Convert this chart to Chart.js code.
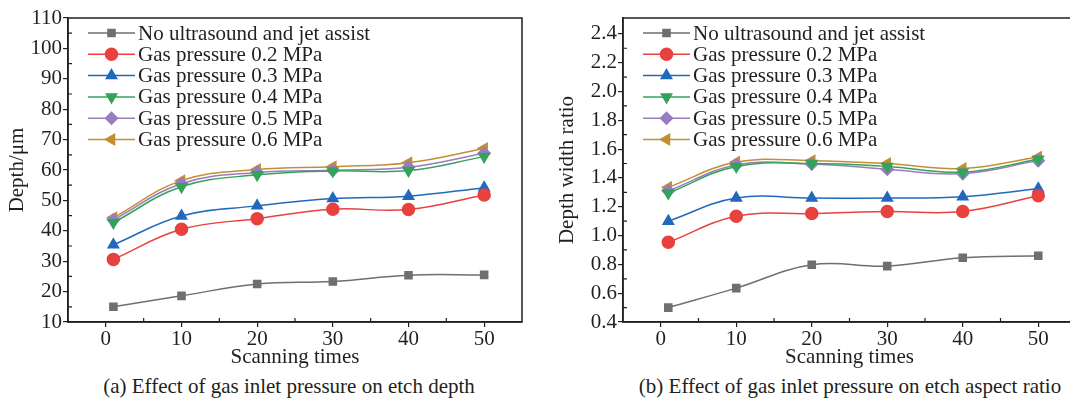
<!DOCTYPE html>
<html>
<head>
<meta charset="utf-8">
<script src="https://cdn.jsdelivr.net/npm/chart.js"></script>
<style>
  html, body { margin: 0; padding: 0; background: #fff; overflow: hidden; width: 1070px; height: 400px; }
  canvas { position: absolute; top: 0; }
  #depth-chart { left: 0; }
  #ratio-chart { left: 555px; }
  .caption { position: absolute; top: 373px; font: 21px "Liberation Serif", serif; line-height: 26px; color: #231f20; white-space: nowrap; transform: translateX(-50%); }
</style>
</head>
<body>
<canvas id="depth-chart" width="540" height="370"></canvas>
<canvas id="ratio-chart" width="540" height="370"></canvas>
<div class="caption" style="left:289px">(a) Effect of gas inlet pressure on etch depth</div>
<div class="caption" style="left:850px">(b) Effect of gas inlet pressure on etch aspect ratio</div>
<script>
const scanTimes = [1, 10, 20, 30, 40, 50];
const seriesNames = [
    'No ultrasound and jet assist',
    'Gas pressure 0.2 MPa',
    'Gas pressure 0.3 MPa',
    'Gas pressure 0.4 MPa',
    'Gas pressure 0.5 MPa',
    'Gas pressure 0.6 MPa',
];

// etch depth, um
const depthNoAssist = [15, 18.6, 22.5, 23.3, 25.4, 25.5];
const depth02 = [30.6, 40.5, 44, 47.1, 47, 51.8];
const depth03 = [35.4, 44.9, 48.2, 50.6, 51.4, 54.2];
const depth04 = [42.7, 54.5, 58.4, 59.7, 59.8, 64.4];
const depth05 = [43.6, 55.5, 59.2, 59.9, 60.9, 65.5];
const depth06 = [44.3, 56.5, 60.2, 61.1, 62.4, 67.1];

// depth / width ratio
const ratioNoAssist = [0.50, 0.635, 0.797, 0.788, 0.846, 0.86];
const ratio02 = [0.953, 1.134, 1.153, 1.167, 1.167, 1.276];
const ratio03 = [1.10, 1.26, 1.26, 1.26, 1.27, 1.325];
const ratio04 = [1.295, 1.48, 1.50, 1.48, 1.44, 1.53];
const ratio05 = [1.31, 1.49, 1.497, 1.46, 1.43, 1.52];
const ratio06 = [1.335, 1.51, 1.52, 1.50, 1.465, 1.545];

const depthTicks = [10, 20, 30, 40, 50, 60, 70, 80, 90, 100, 110];
const ratioTicks = [0.4, 0.6, 0.8, 1.0, 1.2, 1.4, 1.6, 1.8, 2.0, 2.2, 2.4];
const xTicks = [0, 10, 20, 30, 40, 50];

const seriesColors = ['#6e6f73', '#e8413f', '#2169bd', '#33a35b', '#9a7cc0', '#c38f32'];
const seriesMarkers = [
    { style: 'rect', rotation: 0 },
    { style: 'circle', rotation: 0 },
    { style: 'triangle', rotation: 0 },
    { style: 'triangle', rotation: 180 },
    { style: 'rectRot', rotation: 0 },
    { style: 'triangle', rotation: 270 },
];

const ink = '#231f20';
const serif = '"Liberation Serif", "Times New Roman", serif';
const fontSize = 21;

function makeDatasets(seriesList) {
    return seriesList.map((values, i) => ({
        label: seriesNames[i],
        data: values.map((v, j) => ({ x: scanTimes[j], y: v })),
        borderColor: seriesColors[i],
        backgroundColor: seriesColors[i],
        borderWidth: 1.5,
        pointStyle: seriesMarkers[i].style,
        rotation: seriesMarkers[i].rotation,
        pointRadius: seriesMarkers[i].style === 'rect' ? 5 : 6,
        tension: 0.4,
    }));
}

// box around the plot area
const framePlugin = {
    id: 'frame',
    afterDraw(chart) {
        const { ctx, chartArea } = chart;
        ctx.save();
        ctx.strokeStyle = ink;
        ctx.lineWidth = 1.5;
        ctx.strokeRect(chartArea.left, chartArea.top, chartArea.right - chartArea.left, chartArea.bottom - chartArea.top);
        ctx.restore();
    }
};

// small inward ticks between the labelled ones
const minorTickPlugin = {
    id: 'minorTicks',
    afterDraw(chart, args, opts) {
        const { ctx, chartArea, scales } = chart;
        ctx.save();
        ctx.strokeStyle = ink;
        ctx.lineWidth = 1.2;
        ctx.beginPath();
        for (const v of opts.x) {
            const px = scales.x.getPixelForValue(v);
            ctx.moveTo(px, chartArea.bottom);
            ctx.lineTo(px, chartArea.bottom - 4);
        }
        for (const v of opts.y) {
            const py = scales.y.getPixelForValue(v);
            ctx.moveTo(chartArea.left, py);
            ctx.lineTo(chartArea.left + 4, py);
        }
        ctx.stroke();
        ctx.restore();
    }
};

// legend with line + marker, drawn inside the plot
const lineLegendPlugin = {
    id: 'lineLegend',
    afterDraw(chart) {
        const { ctx, chartArea } = chart;
        const x0 = chartArea.left + 20;
        const y0 = chartArea.top + 15;
        const rowH = 21.3;
        ctx.save();
        ctx.font = fontSize + 'px ' + serif;
        ctx.textBaseline = 'middle';
        chart.data.datasets.forEach((ds, i) => {
            const y = y0 + i * rowH;
            ctx.strokeStyle = ds.borderColor;
            ctx.fillStyle = ds.backgroundColor;
            ctx.lineWidth = 1.5;
            ctx.beginPath();
            ctx.moveTo(x0, y);
            ctx.lineTo(x0 + 47, y);
            ctx.stroke();
            Chart.helpers.drawPoint(ctx, {
                pointStyle: ds.pointStyle,
                rotation: ds.rotation,
                radius: ds.pointRadius,
                borderWidth: 1
            }, x0 + 23.5, y);
            ctx.fillStyle = ink;
            ctx.fillText(ds.label, x0 + 50, y + 1);
        });
        ctx.restore();
    }
};

function buildOptions(yMin, yMax, yTicks, yTitle, yTitlePad, minorY, rightPad, fmt) {
    return {
        responsive: false,
        animation: false,
        layout: { padding: { top: 18, right: rightPad, left: 0, bottom: 0 } },
        plugins: {
            legend: { display: false },
            tooltip: { enabled: false },
            minorTicks: { x: [5, 15, 25, 35, 45], y: minorY },
        },
        scales: {
            x: {
                type: 'linear',
                min: -5,
                max: 55,
                afterBuildTicks: (scale) => { scale.ticks = xTicks.map(v => ({ value: v })); },
                afterFit: (scale) => { scale.height = 48; },
                grid: { drawOnChartArea: false, tickLength: 5, color: ink, lineWidth: 1.2 },
                border: { color: ink, width: 1.5 },
                ticks: { color: ink, font: { family: serif, size: fontSize }, padding: 0, maxRotation: 0 },
                title: { display: true, text: 'Scanning times', color: ink, font: { family: serif, size: fontSize }, padding: { top: 0, bottom: 0 } },
            },
            y: {
                type: 'linear',
                min: yMin,
                max: yMax,
                afterBuildTicks: (scale) => { scale.ticks = yTicks.map(v => ({ value: v })); },
                afterFit: (scale) => { scale.width = 68; },
                grid: { drawOnChartArea: false, tickLength: 5, color: ink, lineWidth: 1.2 },
                border: { color: ink, width: 1.5 },
                ticks: { color: ink, font: { family: serif, size: fontSize }, padding: 1, callback: fmt },
                title: { display: true, text: yTitle, color: ink, font: { family: serif, size: fontSize }, padding: { top: yTitlePad, bottom: 0 } },
            },
        },
    };
}

new Chart(document.getElementById('depth-chart'), {
    type: 'line',
    data: { datasets: makeDatasets([depthNoAssist, depth02, depth03, depth04, depth05, depth06]) },
    options: buildOptions(10, 110, depthTicks, 'Depth/\u03bcm', 5,
        [15, 25, 35, 45, 55, 65, 75, 85, 95, 105], 18, (v) => v),
    plugins: [framePlugin, minorTickPlugin, lineLegendPlugin],
});

new Chart(document.getElementById('ratio-chart'), {
    type: 'line',
    data: { datasets: makeDatasets([ratioNoAssist, ratio02, ratio03, ratio04, ratio05, ratio06]) },
    options: buildOptions(0.4, 2.51, ratioTicks, 'Depth width ratio', 0,
        [0.5, 0.7, 0.9, 1.1, 1.3, 1.5, 1.7, 1.9, 2.1, 2.3], 19, (v) => Number(v).toFixed(1)),
    plugins: [framePlugin, minorTickPlugin, lineLegendPlugin],
});
</script>
</body>
</html>
